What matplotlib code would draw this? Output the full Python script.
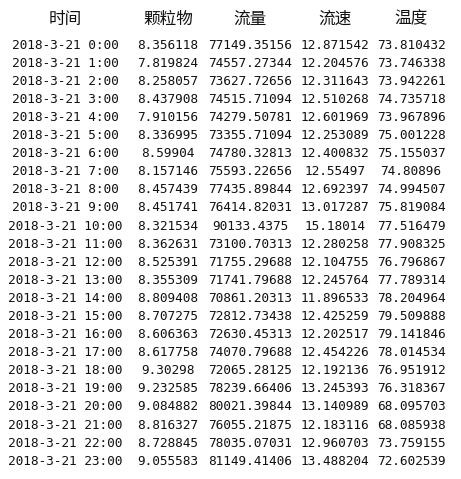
import matplotlib
matplotlib.use("Agg")
import matplotlib.pyplot as plt

headers = ["时间", "颗粒物", "流量", "流速", "温度"]
times = [f"2018-3-21 {h}:00" for h in range(24)]
particles = ["8.356118","7.819824","8.258057","8.437908","7.910156","8.336995","8.59904","8.157146",
             "8.457439","8.451741","8.321534","8.362631","8.525391","8.355309","8.809408","8.707275",
             "8.606363","8.617758","9.30298","9.232585","9.084882","8.816327","8.728845","9.055583"]
flow = ["77149.35156","74557.27344","73627.72656","74515.71094","74279.50781","73355.71094","74780.32813","75593.22656",
        "77435.89844","76414.82031","90133.4375","73100.70313","71755.29688","71741.79688","70861.20313","72812.73438",
        "72630.45313","74070.79688","72065.28125","78239.66406","80021.39844","76055.21875","78035.07031","81149.41406"]
speed = ["12.871542","12.204576","12.311643","12.510268","12.601969","12.253089","12.400832","12.55497",
         "12.692397","13.017287","15.18014","12.280258","12.104755","12.245764","11.896533","12.425259",
         "12.202517","12.454226","12.192136","13.245393","13.140989","12.183116","12.960703","13.488204"]
temp = ["73.810432","73.746338","73.942261","74.735718","73.967896","75.001228","75.155037","74.80896",
        "74.994507","75.819084","77.516479","77.908325","76.796867","77.789314","78.204964","79.509888",
        "79.141846","78.014534","76.951912","76.318367","68.095703","68.085938","73.759155","72.602539"]

W, H = 461, 479
fig = plt.figure(figsize=(W/100, H/100), dpi=100)
fig.patch.set_facecolor("white")
ax = fig.add_axes([0, 0, 1, 1])
ax.set_xlim(0, W); ax.set_ylim(H, 0); ax.axis("off")

xs = [65, 168, 250, 335, 411]
for x, h in zip(xs, headers):
    ax.text(x, 19, h, ha="center", va="center", fontsize=12,
            family=["Noto Sans CJK SC", "DejaVu Sans"], color="#111")
cols = [times, particles, flow, speed, temp]
for i in range(24):
    y = 45 + i * 18.1
    for x, col in zip(xs, cols):
        ax.text(x, y, col[i], ha="center", va="center", fontsize=9.2,
                family="DejaVu Sans Mono", color="#111")
fig.savefig("out.png", dpi=100)
